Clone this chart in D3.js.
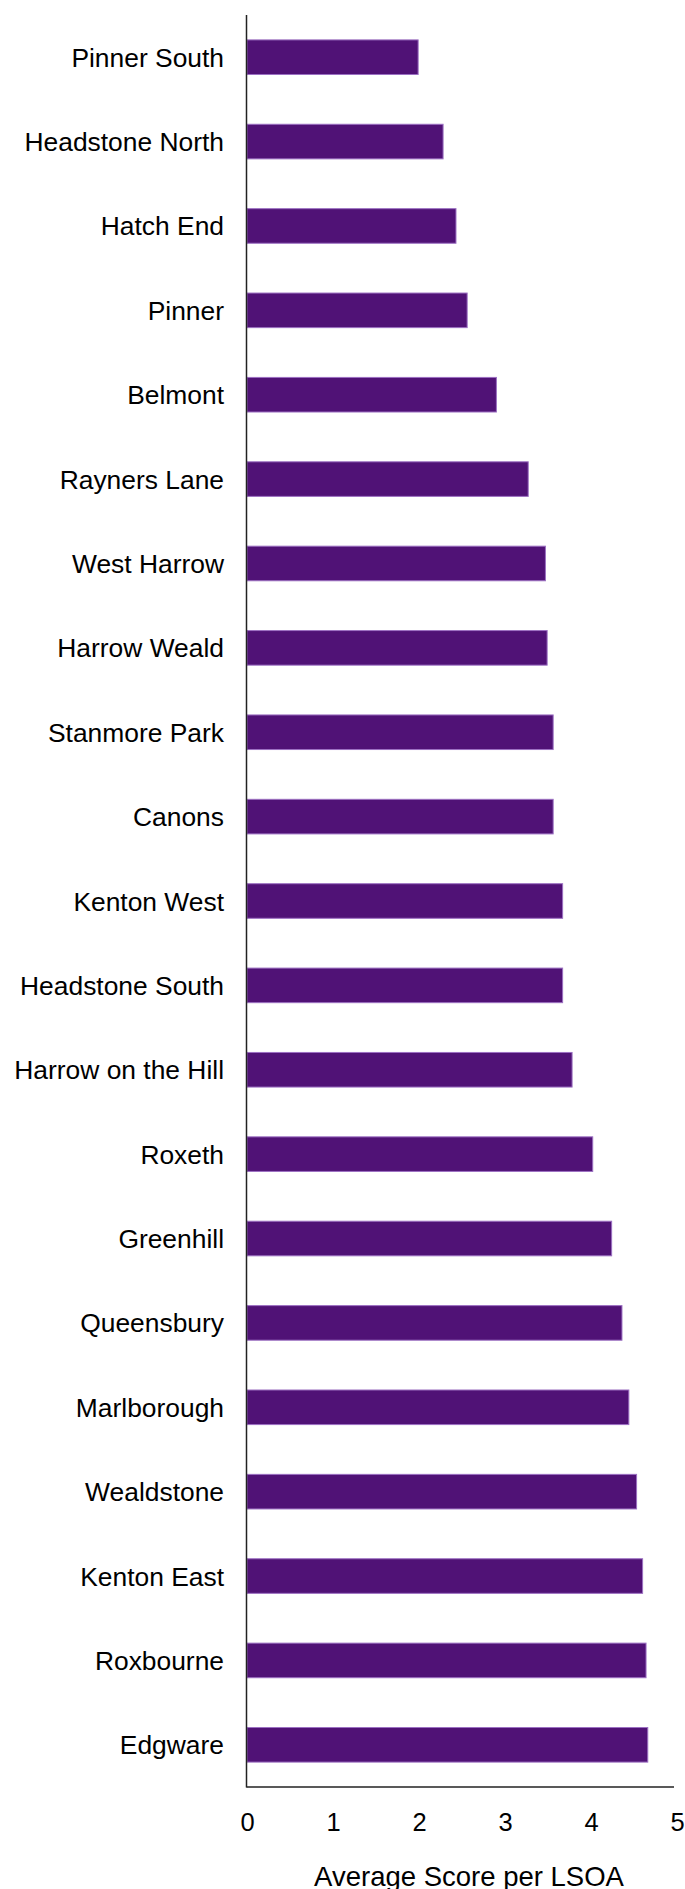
<!DOCTYPE html>
<html>
<head>
<meta charset="utf-8">
<script src="https://cdn.jsdelivr.net/npm/d3@7"></script>
<style>
  html, body { margin: 0; padding: 0; background: #fff; }
  svg { display: block; font-family: "Liberation Sans", Arial, sans-serif; }
</style>
</head>
<body>
<svg id="chart" width="685" height="1889"></svg>
<script>
const categories = ["Pinner South", "Headstone North", "Hatch End", "Pinner", "Belmont",
  "Rayners Lane", "West Harrow", "Harrow Weald", "Stanmore Park", "Canons", "Kenton West",
  "Headstone South", "Harrow on the Hill", "Roxeth", "Greenhill", "Queensbury",
  "Marlborough", "Wealdstone", "Kenton East", "Roxbourne", "Edgware"];
const values = [1.99, 2.28, 2.43, 2.56, 2.90, 3.27, 3.47, 3.49, 3.56, 3.56, 3.67,
  3.67, 3.78, 4.02, 4.24, 4.36, 4.44, 4.53, 4.60, 4.64, 4.66];
const xTicks = [0, 1, 2, 3, 4, 5];
const xTitle = "Average Score per LSOA";

(function () {
const svg = d3.select("#chart");
const plotLeft = 247, plotRight = 677, plotTop = 15, plotBottom = 1787;

const x = d3.scaleLinear().domain([0, 5]).range([plotLeft, plotRight]);
const y = d3.scaleBand().domain(categories).range([plotTop, plotBottom])
  .paddingInner(0.59).paddingOuter(0.295);

// bars
svg.append("g").selectAll("rect")
  .data(categories)
  .join("rect")
  .attr("x", x(0))
  .attr("y", d => y(d))
  .attr("width", (d, i) => x(values[i]) - x(0))
  .attr("height", y.bandwidth())
  .attr("fill", "#501276")
  .attr("stroke", "#9c70c2")
  .attr("stroke-width", 1);

// y axis labels
const yAxis = d3.axisLeft(y).tickSize(0).tickPadding(23);
const gy = svg.append("g").attr("transform", `translate(${plotLeft},0)`).call(yAxis);
gy.select(".domain").remove();
gy.selectAll("text")
  .attr("font-size", 26.4)
  .attr("font-family", "Liberation Sans, Arial, sans-serif")
  .attr("fill", "#000")
  .attr("dy", "0.36em");

// x axis labels
const xAxis = d3.axisBottom(x).tickValues(xTicks).tickSize(0).tickPadding(26)
  .tickFormat(d3.format("d"));
const gx = svg.append("g").attr("transform", `translate(0,${plotBottom})`).call(xAxis);
gx.select(".domain").remove();
gx.selectAll("text")
  .attr("font-size", 25.5)
  .attr("font-family", "Liberation Sans, Arial, sans-serif")
  .attr("fill", "#000");

// axis lines
svg.append("line")
  .attr("x1", plotLeft - 0.5).attr("x2", plotLeft - 0.5)
  .attr("y1", plotTop).attr("y2", plotBottom + 0.5)
  .attr("stroke", "#222").attr("stroke-width", 1.5);
svg.append("line")
  .attr("x1", plotLeft - 0.5).attr("x2", 674)
  .attr("y1", plotBottom).attr("y2", plotBottom)
  .attr("stroke", "#222").attr("stroke-width", 1.5);

// x title
svg.append("text")
  .attr("x", 469)
  .attr("y", 1886)
  .attr("text-anchor", "middle")
  .attr("font-size", 27.5)
  .attr("fill", "#000")
  .text(xTitle);
})();
</script>
</body>
</html>
